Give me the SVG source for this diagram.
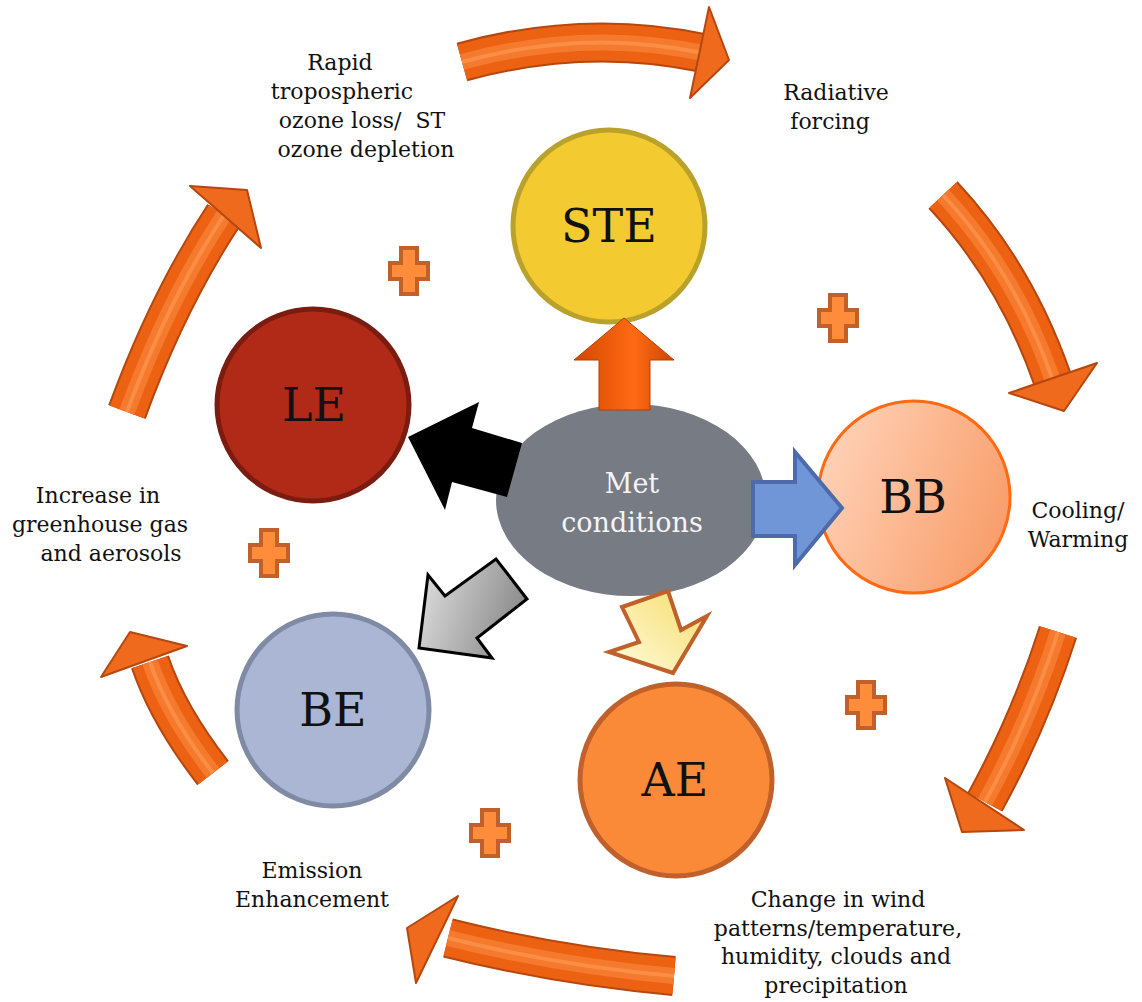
<svg xmlns="http://www.w3.org/2000/svg" xmlns:xlink="http://www.w3.org/1999/xlink" width="1142" height="1002" viewBox="0 0 1142 1002">
<style>
.lbl{font-family:"DejaVu Serif","Liberation Serif",serif;font-size:22px;fill:#111;text-anchor:middle}
.big{font-family:"DejaVu Serif","Liberation Serif",serif;font-size:46px;fill:#111;text-anchor:middle}
.met{font-family:"DejaVu Serif","Liberation Serif",serif;font-size:27px;fill:#F4F4F4;text-anchor:middle}
.edge{fill:none;stroke:#B5470F;stroke-width:40}
.body{fill:none;stroke:#EC6212;stroke-width:36}
.shine{fill:none;stroke:#F57A2E;stroke-width:16}
.glint{fill:none;stroke:#FF9A55;stroke-width:4;opacity:.6}
.head{fill:#F06A1E;stroke:#B5470F;stroke-width:2;stroke-linejoin:round}
.plus{fill:#FF8C3A;stroke:#C0602A;stroke-width:4}
</style>
<defs>
<path id="plusshape" d="M-8,-23 H8 V-8 H19 V8 H8 V23 H-8 V8 H-19 V-8 H-8 Z"/>
<path id="a1" d="M462,62 Q585,28 703,53"/>
<path id="a2" d="M943,195 Q1015,272 1052,378"/>
<path id="a3" d="M985,802 Q1030,720 1058,632"/>
<path id="a4" d="M674,976 Q560,966 448,938"/>
<path id="a5" d="M213,773 Q168,715 150,662"/>
<path id="a6" d="M127,412 Q168,300 224,215"/>
<linearGradient id="gBB" x1="0" y1="0.3" x2="1" y2="0.7"><stop offset="0" stop-color="#FFD2B8"/><stop offset="1" stop-color="#F89C68"/></linearGradient>
<linearGradient id="gUp" x1="0" y1="0" x2="1" y2="0"><stop offset="0" stop-color="#D24800"/><stop offset="0.6" stop-color="#FF6A14"/><stop offset="1" stop-color="#C84600"/></linearGradient>
<linearGradient id="gGrey" x1="0" y1="0" x2="1" y2="0.3"><stop offset="0" stop-color="#E2E2E2"/><stop offset="1" stop-color="#8E8E8E"/></linearGradient>
<linearGradient id="gYel" x1="0" y1="1" x2="1" y2="0"><stop offset="0" stop-color="#FFFCE0"/><stop offset="1" stop-color="#F6DC6A"/></linearGradient>
</defs>
<rect width="1142" height="1002" fill="#fff"/>

<g id="node-STE"><circle cx="609" cy="226" r="96" fill="#F3CB30" stroke="#B9A12C" stroke-width="5"/><text class="big" x="609" y="242">STE</text></g>
<g id="node-LE"><circle cx="313" cy="405" r="96" fill="#B12A17" stroke="#7B1C10" stroke-width="5"/><text class="big" x="314" y="421">LE</text></g>
<g id="node-BB"><circle cx="914" cy="497" r="96" fill="url(#gBB)" stroke="#FF6A12" stroke-width="3"/><text class="big" x="913" y="513">BB</text></g>
<g id="node-BE"><circle cx="333" cy="710" r="96" fill="#AAB6D4" stroke="#7F8AA4" stroke-width="5"/><text class="big" x="333" y="726">BE</text></g>
<g id="node-AE"><circle cx="676" cy="780" r="96" fill="#FB8A38" stroke="#C0602A" stroke-width="5"/><text class="big" x="675" y="796">AE</text></g>
<g id="node-Met"><ellipse cx="631" cy="500" rx="135" ry="96" fill="#777B84"/><text class="met" x="632" y="493">Met</text><text class="met" x="632" y="532">conditions</text></g>

<g id="connectors">
<g id="cycle">
<use href="#a1" class="edge"/><use href="#a1" class="body"/><use href="#a1" class="shine"/><use href="#a1" class="glint"/>
<polygon class="head" points="709,7 729,60 690,98"/>
<use href="#a2" class="edge"/><use href="#a2" class="body"/><use href="#a2" class="shine"/><use href="#a2" class="glint"/>
<polygon class="head" points="1097,363 1064,411 1009,393"/>
<use href="#a3" class="edge"/><use href="#a3" class="body"/><use href="#a3" class="shine"/><use href="#a3" class="glint"/>
<polygon class="head" points="1024,830 962,832 945,778"/>
<use href="#a4" class="edge"/><use href="#a4" class="body"/><use href="#a4" class="shine"/><use href="#a4" class="glint"/>
<polygon class="head" points="458,896 407,928 416,983"/>
<use href="#a5" class="edge"/><use href="#a5" class="body"/><use href="#a5" class="shine"/><use href="#a5" class="glint"/>
<polygon class="head" points="187,646 130,632 101,677"/>
<use href="#a6" class="edge"/><use href="#a6" class="body"/><use href="#a6" class="shine"/><use href="#a6" class="glint"/>
<polygon class="head" points="190,186 247,190 261,248"/>
</g>
<polygon id="to-STE" points="599,410 599,360 574,360 624,318 674,360 650,360 650,410" fill="url(#gUp)" stroke="#B84000" stroke-width="1"/>
<polygon id="to-LE" points="408,437 479,402 472,428 522,443 507,497 452,482 445,510" fill="#000"/>
<polygon id="to-BB" points="753,482 795,482 795,452 842,508 795,565 795,536 753,536" fill="#7096D8" stroke="#4D6BAA" stroke-width="4" stroke-linejoin="miter"/>
<polygon id="to-BE" points="419,648 428,575 445,596 496,559 527,599 477,638 492,658" fill="url(#gGrey)" stroke="#000" stroke-width="3"/>
<polygon id="to-AE" points="622,607 668,591 681,630 707,616 673,673 609,652 639,642" fill="url(#gYel)" stroke="#C0602A" stroke-width="4"/>
</g>

<g id="plus-signs">
<use href="#plusshape" class="plus" transform="translate(409,271)"/>
<use href="#plusshape" class="plus" transform="translate(838,318)"/>
<use href="#plusshape" class="plus" transform="translate(269,553)"/>
<use href="#plusshape" class="plus" transform="translate(866,705)"/>
<use href="#plusshape" class="plus" transform="translate(490,833)"/>
</g>

<g id="labels">
<text class="lbl" x="340" y="70">Rapid</text>
<text class="lbl" x="342" y="99">tropospheric</text>
<text class="lbl" x="362" y="128" xml:space="preserve">ozone loss/  ST</text>
<text class="lbl" x="366" y="157">ozone depletion</text>
<text class="lbl" x="836" y="100">Radiative</text>
<text class="lbl" x="830" y="129">forcing</text>
<text class="lbl" x="98" y="503">Increase in</text>
<text class="lbl" x="100" y="532">greenhouse gas</text>
<text class="lbl" x="111" y="561">and aerosols</text>
<text class="lbl" x="1078" y="518">Cooling/</text>
<text class="lbl" x="1078" y="547">Warming</text>
<text class="lbl" x="312" y="878">Emission</text>
<text class="lbl" x="312" y="907">Enhancement</text>
<text class="lbl" x="838" y="907">Change in wind</text>
<text class="lbl" x="838" y="936">patterns/temperature,</text>
<text class="lbl" x="836" y="964">humidity, clouds and</text>
<text class="lbl" x="836" y="993">precipitation</text>
</g>
</svg>
